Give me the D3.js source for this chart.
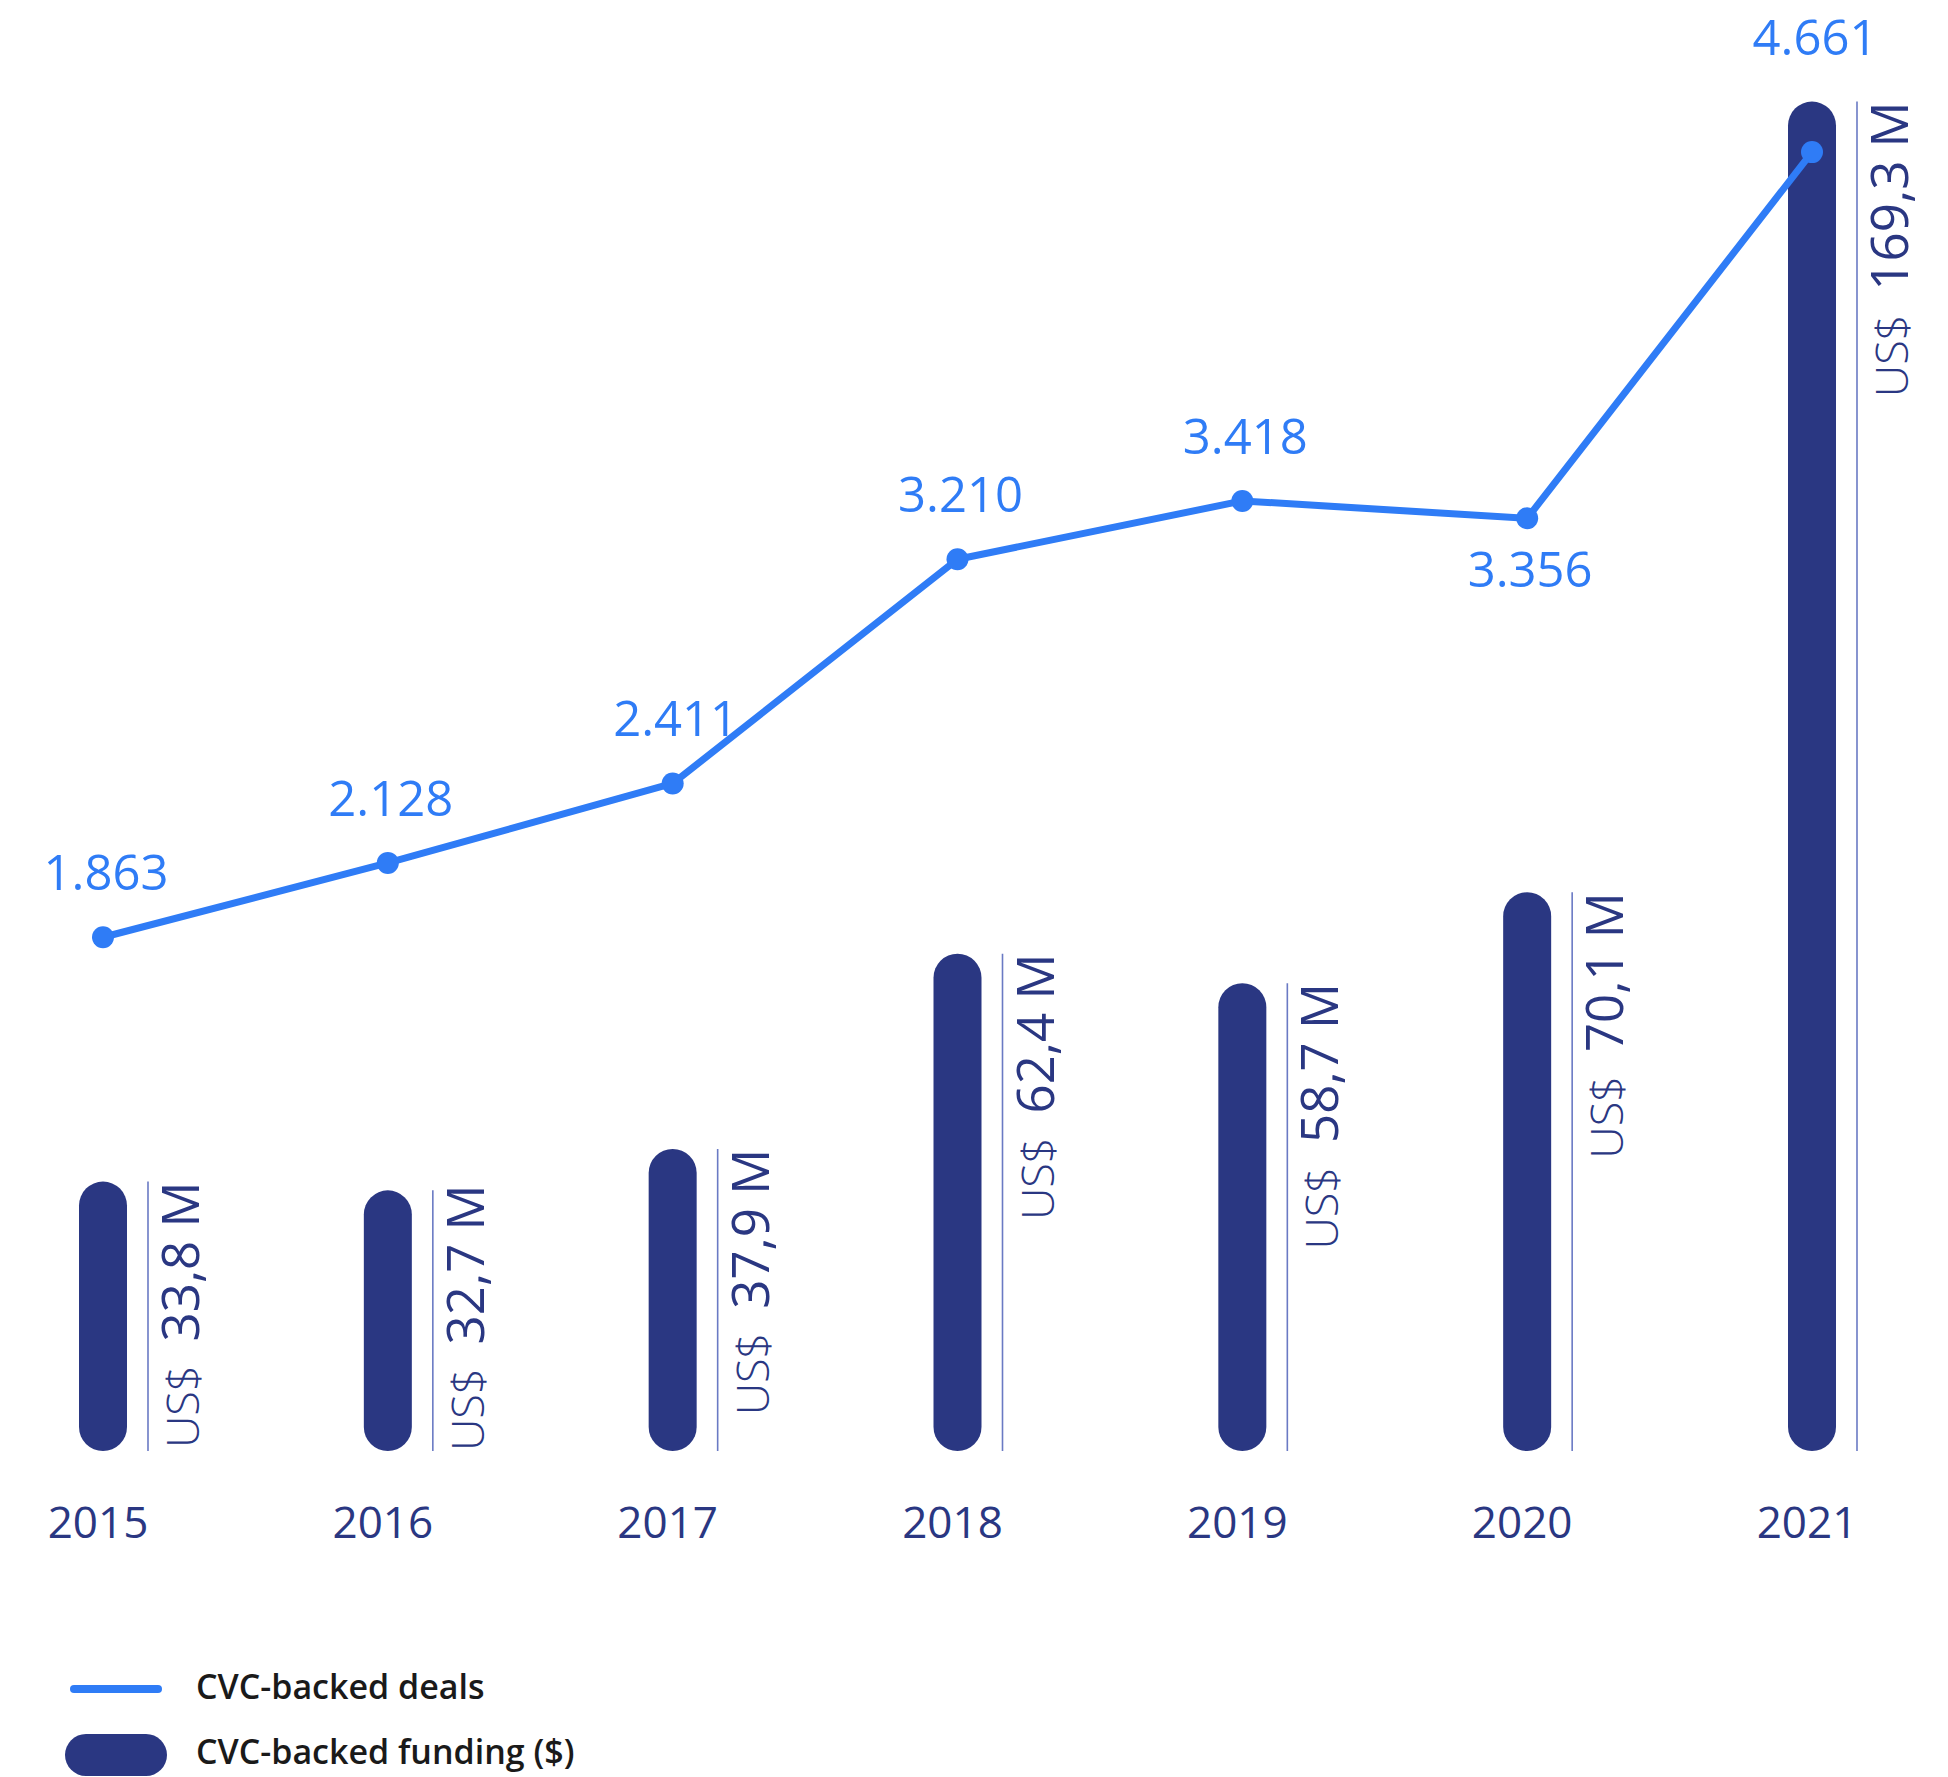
<!DOCTYPE html>
<html>
<head>
<meta charset="utf-8">
<script src="https://cdn.jsdelivr.net/npm/d3@7"></script>
<style>
  html, body { margin: 0; padding: 0; background: #fff; }
  svg { display: block; font-family: "Open Sans", "Noto Sans", sans-serif; }
</style>
</head>
<body>
<div id="chart"></div>
<script>
// 数据
const years = ["2015", "2016", "2017", "2018", "2019", "2020", "2021"];
const deals = [1863, 2128, 2411, 3210, 3418, 3356, 4661];
const funding = [33.8, 32.7, 37.9, 62.4, 58.7, 70.1, 169.3];
const dealLabels = ["1.863", "2.128", "2.411", "3.210", "3.418", "3.356", "4.661"];
const fundingLabels = ["33,8 M", "32,7 M", "37,9 M", "62,4 M", "58,7 M", "70,1 M", "169,3 M"];
const legendItems = ["CVC-backed deals", "CVC-backed funding ($)"];

const width = 1948, height = 1777;
const lineColor = "#2f7cf6";
const barColor = "#2a3782";
const baseY = 1451;

const svg = d3.select("#chart").append("svg")
    .attr("width", width)
    .attr("height", height);

const x = d3.scalePoint().domain(years).range([103, 1812]);
const yBar = d3.scaleLinear().domain([0, 170]).range([baseY, 96]);
const yLine = d3.scaleLinear().domain([0, 5000]).range([1460, 57]);

const barW = 48;

// 柱子
svg.selectAll(".bar")
    .data(years)
    .join("rect")
    .attr("class", "bar")
    .attr("x", d => x(d) - barW / 2)
    .attr("y", (d, i) => yBar(funding[i]))
    .attr("width", barW)
    .attr("height", (d, i) => baseY - yBar(funding[i]))
    .attr("rx", barW / 2)
    .attr("fill", barColor);

// 细线
svg.selectAll(".tick-line")
    .data(years)
    .join("line")
    .attr("x1", d => x(d) + 45)
    .attr("x2", d => x(d) + 45)
    .attr("y1", (d, i) => yBar(funding[i]))
    .attr("y2", baseY)
    .attr("stroke", "#6a7ac4")
    .attr("stroke-width", 1.6);

// 竖排金额标签
const gap = 24;
years.forEach((yr, i) => {
    const t = svg.append("text")
        .attr("fill", barColor);
    t.append("tspan")
        .attr("font-size", 45)
        .attr("font-weight", 300)
        .text("US$");
    t.append("tspan")
        .attr("dx", gap)
        .attr("font-size", 51)
        .text(fundingLabels[i]);
    const len = t.node().getComputedTextLength() + gap;
    const top = yBar(funding[i]);
    const start = Math.min(baseY, top + len);
    t.attr("transform", `translate(${x(yr) + 96},${start}) rotate(-90)`);
});

// 折线
const line = d3.line()
    .x((d, i) => x(years[i]))
    .y(d => yLine(d));

svg.append("path")
    .datum(deals)
    .attr("d", line)
    .attr("fill", "none")
    .attr("stroke", lineColor)
    .attr("stroke-width", 7)
    .attr("stroke-linejoin", "round");

svg.selectAll(".dot")
    .data(deals)
    .join("circle")
    .attr("cx", (d, i) => x(years[i]))
    .attr("cy", d => yLine(d))
    .attr("r", 11)
    .attr("fill", lineColor);

// 折线标签
svg.selectAll(".deal-label")
    .data(deals)
    .join("text")
    .attr("x", (d, i) => x(years[i]) + 3)
    .attr("y", (d, i) => {
        const py = yLine(d);
        const isMin = i > 0 && i < deals.length - 1 && d < deals[i - 1] && d < deals[i + 1];
        if (isMin) return py + 69;
        const top = Math.min(py, yBar(funding[i]));
        return top - 47;
    })
    .attr("text-anchor", "middle")
    .attr("font-size", 49)
    .attr("fill", lineColor)
    .text((d, i) => dealLabels[i]);

// 年份
svg.selectAll(".year")
    .data(years)
    .join("text")
    .attr("x", d => x(d) - 5)
    .attr("y", 1538)
    .attr("text-anchor", "middle")
    .attr("font-size", 44)
    .attr("fill", barColor)
    .text(d => d);

// 图例
const lg = svg.append("g");
lg.append("line")
    .attr("x1", 74).attr("x2", 158)
    .attr("y1", 1689).attr("y2", 1689)
    .attr("stroke", lineColor)
    .attr("stroke-width", 8)
    .attr("stroke-linecap", "round");
lg.append("rect")
    .attr("x", 65).attr("y", 1734)
    .attr("width", 102).attr("height", 42)
    .attr("rx", 21)
    .attr("fill", barColor);
lg.selectAll("text")
    .data(legendItems)
    .join("text")
    .attr("x", 196)
    .attr("y", (d, i) => 1699 + i * 65)
    .attr("font-size", 34)
    .attr("font-weight", 600)
    .attr("fill", "#1a1a1a")
    .text(d => d);
</script>
</body>
</html>
